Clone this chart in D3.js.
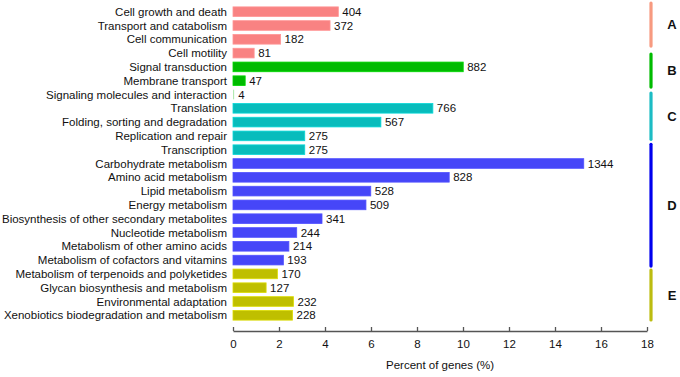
<!DOCTYPE html>
<html>
<head>
<meta charset="utf-8">
<script src="https://cdn.jsdelivr.net/npm/d3@7"></script>
<style>
  body { margin: 0; background: #fff; }
  text { font-family: "Liberation Sans", Arial, sans-serif; }
</style>
</head>
<body>
<div id="chart"></div>
<script>
const categories = [
  "Cell growth and death", "Transport and catabolism", "Cell communication", "Cell motility",
  "Signal transduction", "Membrane transport", "Signaling molecules and interaction",
  "Translation", "Folding, sorting and degradation", "Replication and repair", "Transcription",
  "Carbohydrate metabolism", "Amino acid metabolism", "Lipid metabolism", "Energy metabolism",
  "Biosynthesis of other secondary metabolites", "Nucleotide metabolism",
  "Metabolism of other amino acids", "Metabolism of cofactors and vitamins",
  "Metabolism of terpenoids and polyketides", "Glycan biosynthesis and metabolism",
  "Environmental adaptation", "Xenobiotics biodegradation and metabolism"
];
const counts = [404, 372, 182, 81, 882, 47, 4, 766, 567, 275, 275, 1344, 828, 528, 509, 341, 244, 214, 193, 170, 127, 232, 228];
const percents = [4.58, 4.22, 2.07, 0.92, 10.01, 0.53, 0.05, 8.69, 6.43, 3.12, 3.12, 15.25, 9.40, 5.99, 5.78, 3.87, 2.77, 2.43, 2.19, 1.93, 1.44, 2.63, 2.59];
const groupOf = ["A","A","A","A","B","B","B","C","C","C","C","D","D","D","D","D","D","D","D","E","E","E","E"];
const groups = ["A", "B", "C", "D", "E"];
const groupStart = [-0.63, 3.07, 5.89, 9.61, 18.72];   // in row units, as drawn
const groupEnd = [2.49, 5.46, 9.25, 18.43, 22.34];
const xTicks = [0, 2, 4, 6, 8, 10, 12, 14, 16, 18];

const barColor = { A: "#f98282", B: "#00bb00", C: "#08bcbc", D: "#4646f8", E: "#bfbf00" };
const lineColor = { A: "#f79a80", B: "#00bb00", C: "#1cbcc4", D: "#0000ee", E: "#bcbc10" };

const W = 680, H = 377;
const svg = d3.select("#chart").append("svg").attr("width", W).attr("height", H);

const x = d3.scaleLinear().domain([0, 18]).range([233, 647]);
const y = d3.scaleBand().domain(d3.range(categories.length))
  .range([4.8, 322.2]).paddingInner(0.3).paddingOuter(0.15);
// row index -> y centre, for the group brackets
const yRow = d3.scaleLinear()
  .domain([0, categories.length - 1])
  .range([y(0) + y.bandwidth() / 2, y(categories.length - 1) + y.bandwidth() / 2]);

const rows = categories.map((c, i) => ({ c, i, n: counts[i], p: percents[i], g: groupOf[i] }));

// bars
svg.append("g").selectAll("rect").data(rows).join("rect")
  .attr("x", x(0))
  .attr("y", d => y(d.i))
  .attr("width", d => x(d.p) - x(0))
  .attr("height", y.bandwidth())
  .attr("fill", d => barColor[d.g])
  .attr("fill-opacity", d => x(d.p) - x(0) < 2 ? 0.3 : 1)
  .attr("stroke", d => x(d.p) - x(0) < 2 ? "none" : d3.color(barColor[d.g]).brighter(0.4))
  .attr("stroke-width", 0.8);

// category labels
svg.append("g").selectAll("text").data(rows).join("text")
  .attr("x", 227)
  .attr("y", d => y(d.i) + y.bandwidth() / 2)
  .attr("dy", "0.36em")
  .attr("text-anchor", "end")
  .attr("font-size", "11.5px")
  .attr("fill", "#111")
  .text(d => d.c);

// value labels
svg.append("g").selectAll("text").data(rows).join("text")
  .attr("x", d => x(d.p) + 4)
  .attr("y", d => y(d.i) + y.bandwidth() / 2)
  .attr("dy", "0.36em")
  .attr("font-size", "11.5px")
  .attr("fill", "#111")
  .text(d => d.n);

// x axis
const ax = svg.append("g")
  .attr("transform", "translate(0,331)")
  .call(d3.axisBottom(x).tickValues(xTicks).tickSizeInner(-4).tickSizeOuter(0).tickPadding(9));
ax.select(".domain").attr("stroke", "#555").attr("stroke-width", 1.3);
ax.selectAll(".tick line").attr("stroke", "#555").attr("stroke-width", 1.3);
ax.selectAll(".tick text").attr("font-size", "11.5px").attr("fill", "#111")
  .attr("font-family", "Liberation Sans, Arial, sans-serif");

svg.append("text")
  .attr("x", (x(0) + x(18)) / 2)
  .attr("y", 369)
  .attr("text-anchor", "middle")
  .attr("font-size", "11.5px")
  .attr("fill", "#111")
  .text("Percent of genes (%)");

// group brackets
const gb = svg.append("g").selectAll("g").data(groups).join("g");
gb.append("line")
  .attr("x1", 651).attr("x2", 651)
  .attr("y1", (d, i) => yRow(groupStart[i]))
  .attr("y2", (d, i) => yRow(groupEnd[i]))
  .attr("stroke", d => lineColor[d])
  .attr("stroke-width", 3.2)
  .attr("stroke-linecap", "round");
gb.append("text")
  .attr("x", 672)
  .attr("y", (d, i) => yRow((groupStart[i] + groupEnd[i]) / 2))
  .attr("dy", "0.36em")
  .attr("text-anchor", "middle")
  .attr("font-size", "13px")
  .attr("font-weight", "bold")
  .attr("fill", "#111")
  .text(d => d);
</script>
</body>
</html>
